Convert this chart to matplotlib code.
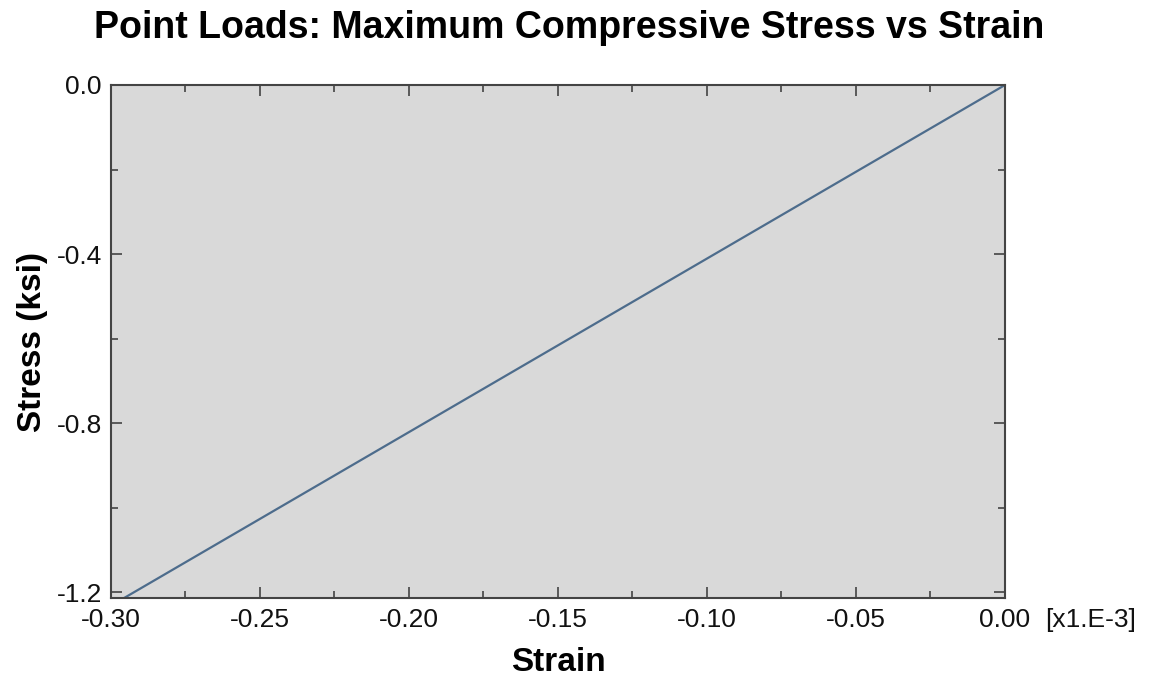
import matplotlib
matplotlib.use("Agg")
import matplotlib.pyplot as plt
from matplotlib.ticker import MultipleLocator, FormatStrFormatter

# Strain in units of 1e-3, stress in ksi
strain = [0.0, -0.2956]
stress = [0.0, -1.214]

plt.rcParams["font.family"] = ["Liberation Sans", "DejaVu Sans"]

fig = plt.figure(figsize=(11.49, 6.81), dpi=100)
ax = fig.add_axes([111 / 1149, 1 - 598 / 681, (1005 - 111) / 1149, (598 - 85) / 681])
ax.set_facecolor("#d9d9d9")

ax.plot(strain, stress, color="#4d6c8c", lw=1.6)

ax.set_xlim(-0.30, 0.0)
ax.set_ylim(-1.214, 0.0)

ax.xaxis.set_major_locator(MultipleLocator(0.05))
ax.xaxis.set_minor_locator(MultipleLocator(0.025))
ax.yaxis.set_major_locator(MultipleLocator(0.4))
ax.yaxis.set_minor_locator(MultipleLocator(0.2))
ax.xaxis.set_major_formatter(FormatStrFormatter("%.2f"))
ax.yaxis.set_major_formatter(FormatStrFormatter("%.1f"))

tick_fs = 19
xpad = 7
ax.tick_params(which="both", direction="in", top=True, right=True,
               color="#444444", labelsize=tick_fs, labelcolor="#111111")
ax.tick_params(which="major", length=8, width=1.2)
ax.tick_params(axis="x", which="major", pad=xpad)
ax.tick_params(axis="y", which="major", pad=6.5)
ax.tick_params(which="minor", length=5, width=1.2)
for s in ax.spines.values():
    s.set_color("#444444")
    s.set_linewidth(1.5)

ax.set_xlabel("Strain", fontsize=24, fontweight="bold", labelpad=11)
ax.set_ylabel("Stress (ksi)", fontsize=24, fontweight="bold", labelpad=6.5)
ax.set_title("Point Loads: Maximum Compressive Stress vs Strain",
             fontsize=27, fontweight="bold", pad=34, x=0.513)

ax.annotate("[x1.E-3]", xy=(1.0, 0.0), xycoords="axes fraction",
            xytext=(29, -xpad), textcoords="offset points",
            ha="left", va="top", fontsize=tick_fs, color="#111111")

fig.savefig("out.png", dpi=100)
